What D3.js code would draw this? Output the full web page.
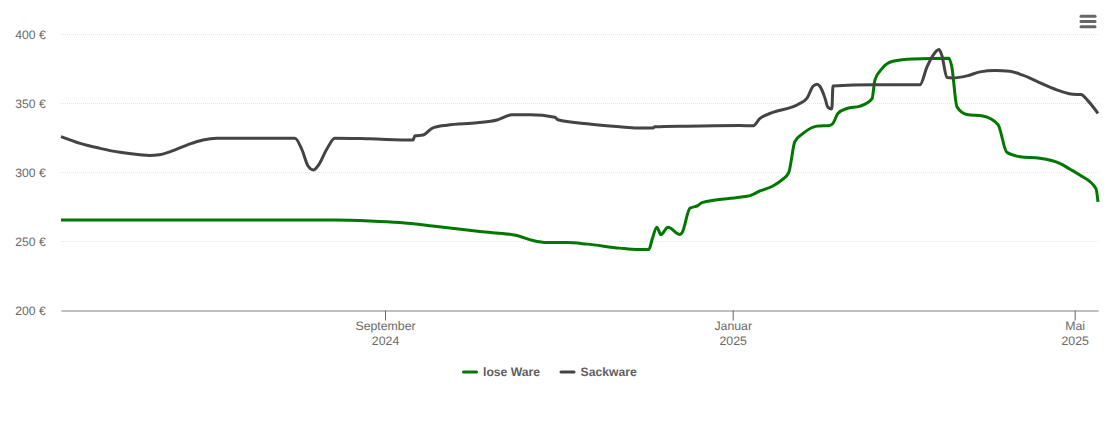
<!DOCTYPE html>
<html><head><meta charset="utf-8">
<script src="https://cdn.jsdelivr.net/npm/d3@7"></script>
<style>
html,body{margin:0;padding:0;background:#fff;overflow:hidden}
text{font-family:"Liberation Sans",Arial,sans-serif;text-rendering:geometricPrecision}
</style></head><body>
<svg id="c" width="1110" height="422"></svg>
<script>
const startDate = "2024-05-10T07:00:00Z";
const endDate = "2025-05-09T04:36:00Z";
const yTicks = [200,250,300,350,400];
const xTicks = ["2024-09-01","2025-01-01","2025-05-01"];
const xTickLabels = [["September","2024"],["Januar","2025"],["Mai","2025"]];
const seriesNames = ["lose Ware","Sackware"];
// days since startDate
const loseDays = [0,96.1,108.4,118.9,131.9,147,160,165.6,170.5,177.5,184.6,196.1,202.1,206.3,207.4,209.1,210.5,213,217.2,217.9,220.7,223.5,224.9,238.2,241.8,245.3,249.8,253,255.4,257.5,260.4,265.3,269.8,270.9,272.6,275.8,280.4,284.6,285.6,288.1,291.9,299,311.6,312.6,314.4,317.9,323.5,328.8,331.9,336.5,343.5,350.5,354,357.5,363.2,363.9];
const loseVals = [265.6,265.6,264.9,263.7,260.8,257.2,254.3,250.7,249.2,249.2,248.1,245.2,244.2,244.2,251.2,260.4,255,260.4,255,256.2,274.1,276,278.2,282.1,283.2,286.6,290.2,294.6,300.1,322.3,328.3,333.6,334.1,335.6,342.8,346.4,348.1,353.4,366.9,375.3,380.6,382.3,382.8,376.5,347.6,342.1,341,334.8,314.6,311.4,310.3,306.6,302.5,298.2,288.3,278.7];
const sackDays = [0,6.7,13.7,20.7,27.7,31,34.5,38.2,44.2,49.8,54.7,82.1,84.6,86.7,88.6,90.2,93.3,96.1,108.4,123.5,124.2,127,130.2,135.4,146,153,158.2,164.6,173.3,174.4,184.6,196.1,202.1,207.7,208.4,219.6,238.2,242.8,245.3,249.8,258.6,261.8,263.9,265.3,266.3,268.1,269.1,270.5,270.9,284.9,301.4,303.9,306,308.1,309.1,310.9,312.9,317.9,322.5,327.8,333,337.5,344.6,350.5,355.1,357.9,360.4,363.9];
const sackVals = [326,321.1,317.5,314.6,312.9,312.4,312.8,315,319.9,323.6,324.9,324.9,316.3,304.7,301.8,304.9,317,324.9,324.4,323.5,326.6,327.1,332,334.3,336,338,341.8,341.8,340.1,338.2,335.3,333.1,332.2,332.2,333.1,333.6,334,333.8,339.2,343.5,349.3,353.9,362.5,364,362.5,353.9,347.3,346.1,362.7,363.5,363.5,376.5,384.9,389.1,384.9,368.8,368.5,370,372.9,373.9,373.4,370.5,364,359.1,356.7,356.5,351.9,342.8];
const colors = ["#007800","#444444"];

const svg = d3.select("#c");
const start = new Date(startDate);
const toDate = d => new Date(+start + d*864e5);
const x = d3.scaleUtc().domain([start,new Date(endDate)]).range([61,1098]);
const y = d3.scaleLinear().domain([200,400]).range([310.5,34.5]);

svg.append("g").selectAll("line").data(yTicks.filter(v=>v>200)).join("line")
  .attr("x1",61).attr("x2",1098).attr("y1",d=>y(d)).attr("y2",d=>y(d))
  .attr("stroke","#e6e6e6").attr("stroke-width",1).attr("stroke-dasharray","1,1");

const gy = svg.append("g").attr("transform","translate(61,0.5)")
  .call(d3.axisLeft(y).tickValues(yTicks).tickSize(0).tickPadding(15).tickFormat(d=>d+" €"));
gy.select(".domain").remove();
gy.selectAll("text").attr("x",-15.2).attr("fill","#6a6a6a").style("font-size","12.2px").style("font-family",'"Liberation Sans",Arial,sans-serif');

const gx = svg.append("g").attr("transform","translate(0,310.5)")
  .call(d3.axisBottom(x).tickValues(xTicks.map(d=>new Date(d+"T00:00:00Z"))).tickSizeInner(10).tickSizeOuter(0).tickFormat(""));
gx.select(".domain").attr("stroke","#808080").attr("stroke-width",1.2);
gx.selectAll(".tick line").attr("stroke","#666");
gx.selectAll(".tick").each(function(d,i){
  const t = d3.select(this).append("text").attr("text-anchor","middle").attr("fill","#6a6a6a").style("font-size","12.3px");
  t.append("tspan").attr("x",0).attr("y",19.5).text(xTickLabels[i][0]);
  t.append("tspan").attr("x",0).attr("y",34.5).text(xTickLabels[i][1]);
});

const line = d3.line().x(d=>x(toDate(d[0]))).y(d=>y(d[1])).curve(d3.curveMonotoneX);
const series = [d3.zip(loseDays,loseVals), d3.zip(sackDays,sackVals)];
svg.append("g").selectAll("path").data(series).join("path")
  .attr("d",line).attr("fill","none").attr("stroke",(d,i)=>colors[i])
  .attr("stroke-width",3).attr("stroke-linejoin","round").attr("stroke-linecap","butt");

const legendX = [462,559.5];
const lg = svg.append("g").selectAll("g").data(seriesNames).join("g")
  .attr("transform",(d,i)=>`translate(${legendX[i]},372)`);
lg.append("line").attr("x1",1.5).attr("x2",14.5).attr("y1",0).attr("y2",0)
  .attr("stroke",(d,i)=>colors[i]).attr("stroke-width",3).attr("stroke-linecap","round");
lg.append("text").attr("x",21).attr("y",4).attr("fill","#5f5f5f").style("font-size","12.2px").style("font-weight","bold").text(d=>d);

const iconRows = [0,1,2];
svg.append("g").selectAll("line").data(iconRows).join("line")
  .attr("x1",1081).attr("x2",1095).attr("y1",d=>16.2+d*5.3).attr("y2",d=>16.2+d*5.3)
  .attr("stroke","#666").attr("stroke-width",3).attr("stroke-linecap","round");
</script>
</body></html>
